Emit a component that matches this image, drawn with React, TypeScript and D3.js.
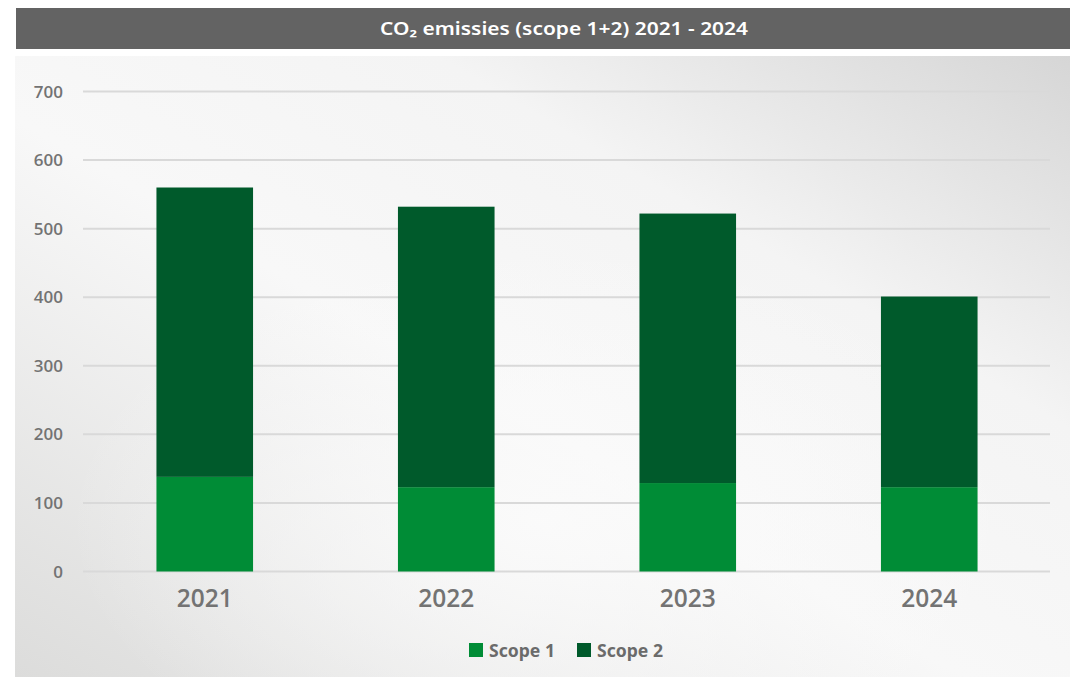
import React, { useEffect, useRef } from 'react';
import * as d3 from 'd3';

const years = ['2021', '2022', '2023', '2024'];
const scope1 = [138, 123, 129, 123];
const scope2 = [422, 409, 393, 278];
const yTicks = [0, 100, 200, 300, 400, 500, 600, 700];
const seriesNames = ['Scope 1', 'Scope 2'];
const seriesColors = ['#008c36', '#005a2b'];

const W = 1070;
const H = 677;

export default function App() {
  const svgRef = useRef<SVGSVGElement | null>(null);

  useEffect(() => {
    if (!svgRef.current) return;
    const svg = d3.select(svgRef.current);
    svg.selectAll('*').remove();

    const x = d3.scaleBand().domain(years).range([84, 1050]).paddingInner(0.6).paddingOuter(0.3);
    const y = d3.scaleLinear().domain([0, 700]).range([571.5, 91.5]);

    // background gradients
    const defs = svg.append('defs');
    const lin = defs.append('linearGradient').attr('id', 'bg').attr('x1', '0').attr('y1', '1').attr('x2', '1').attr('y2', '0');
    lin.append('stop').attr('offset', '0%').attr('stop-color', '#dcdcdb');
    lin.append('stop').attr('offset', '45%').attr('stop-color', '#f8f8f8');
    lin.append('stop').attr('offset', '70%').attr('stop-color', '#f4f4f4');
    lin.append('stop').attr('offset', '100%').attr('stop-color', '#d6d6d6');
    const rad = defs.append('radialGradient').attr('id', 'glow').attr('cx', '0.5').attr('cy', '0.75').attr('r', '0.45');
    rad.append('stop').attr('offset', '0%').attr('stop-color', '#fbfbfb').attr('stop-opacity', 0.9);
    rad.append('stop').attr('offset', '100%').attr('stop-color', '#fbfbfb').attr('stop-opacity', 0);

    svg.append('rect').attr('x', 15).attr('y', 56).attr('width', W - 15).attr('height', H - 56).attr('fill', 'url(#bg)');
    svg.append('rect').attr('x', 15).attr('y', 56).attr('width', W - 15).attr('height', H - 56).attr('fill', 'url(#glow)');

    // title bar
    svg.append('rect').attr('x', 16).attr('y', 8).attr('width', W - 16).attr('height', 41).attr('fill', '#636363');
    svg.append('text')
      .attr('x', 380).attr('y', 35)
      .attr('fill', '#ffffff')
      .attr('font-family', '"Noto Sans", sans-serif')
      .attr('font-weight', 600)
      .attr('font-size', 17.5)
      .attr('textLength', 368)
      .attr('lengthAdjust', 'spacingAndGlyphs')
      .text('CO₂ emissies (scope 1+2) 2021 - 2024');

    // gridlines
    svg.append('g')
      .selectAll('line')
      .data(yTicks)
      .join('line')
      .attr('x1', 83).attr('x2', 1050)
      .attr('y1', d => y(d)).attr('y2', d => y(d))
      .attr('stroke', '#d9d9d9').attr('stroke-width', 2);

    svg.append('g')
      .selectAll('text')
      .data(yTicks)
      .join('text')
      .attr('x', 63).attr('y', d => y(d) + 6)
      .attr('text-anchor', 'end')
      .attr('fill', '#737373')
      .attr('font-family', '"Open Sans", sans-serif')
      .attr('font-weight', 600)
      .attr('font-size', 17)
      .text(d => String(d));

    // stacked bars
    const rows = years.map((yr, i) => ({ year: yr, s1: scope1[i], s2: scope2[i] }));
    const stack = d3.stack<{ year: string; s1: number; s2: number }>().keys(['s1', 's2']);
    const layers = stack(rows);
    svg.append('g')
      .selectAll('g')
      .data(layers)
      .join('g')
      .attr('fill', (_, i) => seriesColors[i])
      .selectAll('rect')
      .data(d => d)
      .join('rect')
      .attr('x', d => x(d.data.year) || 0)
      .attr('width', x.bandwidth())
      .attr('y', d => y(d[1]))
      .attr('height', d => y(d[0]) - y(d[1]));

    // x labels
    svg.append('g')
      .selectAll('text')
      .data(years)
      .join('text')
      .attr('x', d => (x(d) || 0) + x.bandwidth() / 2)
      .attr('y', 607)
      .attr('text-anchor', 'middle')
      .attr('fill', '#737373')
      .attr('font-family', '"Open Sans", sans-serif')
      .attr('font-weight', 600)
      .attr('font-size', 24.5)
      .text(d => d);

    // legend
    const legendX = [469, 577];
    const legend = svg.append('g');
    seriesNames.forEach((name, i) => {
      legend.append('rect')
        .attr('x', legendX[i]).attr('y', 643)
        .attr('width', 14).attr('height', 14)
        .attr('fill', seriesColors[i]);
      legend.append('text')
        .attr('x', legendX[i] + 20).attr('y', 657)
        .attr('fill', '#6b6b6b')
        .attr('font-family', '"Noto Sans", sans-serif')
        .attr('font-weight', 700)
        .attr('font-size', 17.5)
        .attr('textLength', 66)
        .attr('lengthAdjust', 'spacingAndGlyphs')
        .text(name);
    });
  }, []);

  return (
    <svg
      ref={svgRef}
      width={W}
      height={H}
      style={{ position: 'absolute', left: 0, top: 0, display: 'block' }}
    />
  );
}
